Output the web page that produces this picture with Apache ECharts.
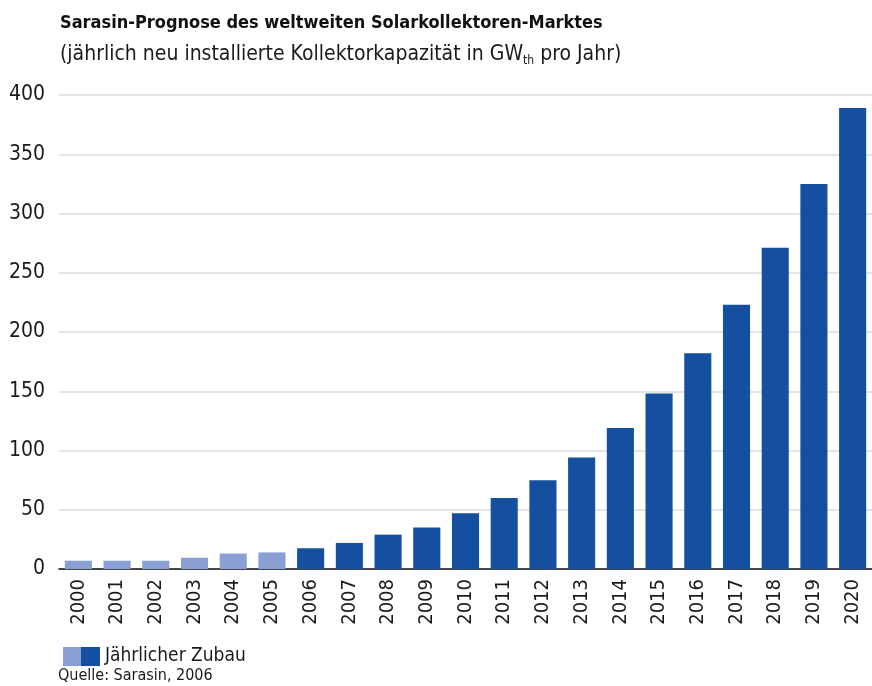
<!DOCTYPE html>
<html>
<head>
<meta charset="utf-8">
<title>Solarkollektoren-Markt</title>
<script src="https://cdn.jsdelivr.net/npm/echarts@6/dist/echarts.min.js"></script>
<style>
  html, body { margin: 0; padding: 0; background: #fff; }
  #chart { width: 872px; height: 686px; }
</style>
</head>
<body>
<div id="chart"></div>
<script>
// Jahre und jährlicher Zubau (GWth)
var years = ['2000', '2001', '2002', '2003', '2004', '2005', '2006', '2007', '2008', '2009', '2010',
             '2011', '2012', '2013', '2014', '2015', '2016', '2017', '2018', '2019', '2020'];
var zubau = [7, 7, 7, 9.5, 13, 14, 17.5, 22, 29, 35, 47, 60, 75, 94, 119, 148, 182, 223, 271, 325, 389];
var firstForecastYear = '2006';
var yTicks = [0, 50, 100, 150, 200, 250, 300, 350, 400];

var LIGHT = '#8aa0d4';
var DARK = '#14509f';
var FONT = '"Liberation Sans Narrow", "DejaVu Sans Condensed", "Liberation Sans", sans-serif';

var chart = echarts.init(document.getElementById('chart'));

var option = {
  animation: false,
  title: {
    text: 'Sarasin-Prognose des weltweiten Solarkollektoren-Marktes',
    subtext: '(jährlich neu installierte Kollektorkapazität in {t|GW}{s|th}{t| pro Jahr)}',
    left: 55,
    top: 9,
    itemGap: 10,
    textStyle: { fontFamily: FONT, fontWeight: 'bold', fontSize: 18, color: '#111' },
    subtextStyle: {
      fontFamily: FONT, fontSize: 21, color: '#1a1a1a',
      rich: {
        t: { fontFamily: FONT, fontSize: 21, color: '#1a1a1a' },
        s: { fontFamily: FONT, fontSize: 12, color: '#1a1a1a', verticalAlign: 'bottom', padding: [13, 0, 0, 0] }
      }
    }
  },
  legend: {
    left: 58,
    top: 642,
    icon: 'rect',
    itemWidth: 37,
    itemHeight: 19,
    itemGap: 8,
    textStyle: { fontFamily: FONT, fontSize: 19, color: '#1a1a1a' },
    data: [{
      name: 'Jährlicher Zubau',
      itemStyle: {
        color: {
          type: 'linear', x: 0, y: 0, x2: 1, y2: 0,
          colorStops: [
            { offset: 0, color: LIGHT }, { offset: 0.5, color: LIGHT },
            { offset: 0.5, color: DARK }, { offset: 1, color: DARK }
          ]
        }
      }
    }]
  },
  graphic: [{
    type: 'text',
    left: 58,
    top: 668,
    style: { text: 'Quelle: Sarasin, 2006', fontFamily: FONT, fontSize: 16, fill: '#1a1a1a' }
  }],
  grid: { left: 59, right: 0, top: 95, bottom: 117 },
  xAxis: {
    type: 'category',
    data: years,
    axisLine: { lineStyle: { color: '#111', width: 1.5 } },
    axisTick: { length: 12, lineStyle: { color: '#111', width: 1.5 } },
    axisLabel: { rotate: 90, margin: 10, fontFamily: FONT, fontSize: 20, color: '#1a1a1a' }
  },
  yAxis: {
    type: 'value',
    min: yTicks[0],
    max: yTicks[yTicks.length - 1],
    interval: 50,
    axisLine: { show: false },
    axisTick: { show: false },
    axisLabel: { margin: 14, fontFamily: FONT, fontSize: 21, color: '#1a1a1a' },
    splitLine: { lineStyle: { color: '#dcdcdc', width: 1.5 } }
  },
  series: [{
    name: 'Jährlicher Zubau',
    type: 'bar',
    data: zubau,
    barCategoryGap: '30%',
    itemStyle: {
      color: function (p) {
        return years[p.dataIndex] < firstForecastYear ? LIGHT : DARK;
      }
    }
  }]
};

chart.setOption(option);
</script>
</body>
</html>
